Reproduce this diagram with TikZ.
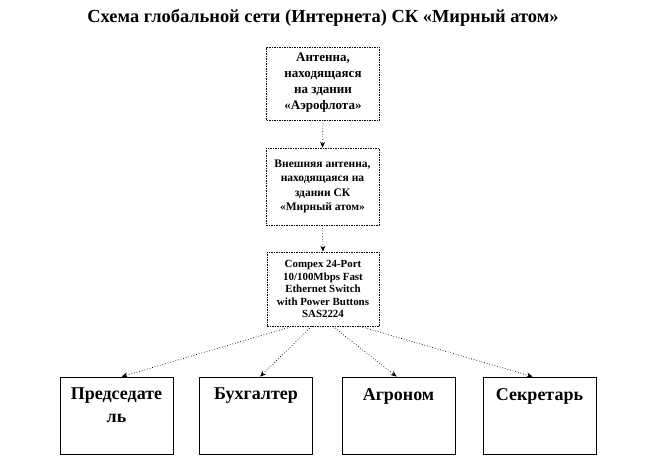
\documentclass[tikz,border=0pt]{standalone}
\usepackage{fontspec}
\setmainfont{Liberation Serif}
\usetikzlibrary{arrows.meta,calc}
\tikzset{
  topbox/.style={draw, dash pattern=on 1.5pt off 1pt, line width=0.6pt, align=center, inner sep=1pt},
  staffbox/.style={draw, line width=0.8pt, minimum width=113pt, minimum height=77pt},
  stafftext/.style={text width=113pt, align=center, anchor=north, font=\bfseries\fontsize{18}{23}\selectfont},
  link/.style={dotted, line width=0.7pt, -{Stealth[length=6pt,width=5pt]}}
}
\begin{document}
\begin{tikzpicture}[x=1pt,y=-1pt]
\useasboundingbox (0,0) rectangle (647,456);
\node (title) at (323,18) {\bfseries\fontsize{18.4}{20}\selectfont Схема глобальной сети (Интернета) СК «Мирный атом»};

\node[topbox, minimum width=113pt, minimum height=73pt, text depth=4pt, font=\bfseries\fontsize{13}{16}\selectfont] (n1) at (323,83.5) {Антенна,\\ находящаяся\\ на здании\\ «Аэрофлота»};
\node[topbox, minimum width=113pt, minimum height=77pt, font=\bfseries\fontsize{11.5}{14.5}\selectfont] (n2) at (322.5,186.5) {Внешняя антенна,\\ находящаяся на\\ здании СК\\ «Мирный атом»};
\node[topbox, minimum width=112pt, minimum height=74pt, font=\bfseries\fontsize{10.9}{12.5}\selectfont] (n3) at (323,289) {Compex 24-Port\\ 10/100Mbps Fast\\ Ethernet Switch\\ with Power Buttons\\ SAS2224};

\node[staffbox] (a) at (116.5,415.5) {};
\node[staffbox] (b) at (256,415.5) {};
\node[staffbox] (c) at (398.5,415.5) {};
\node[staffbox] (d) at (539.5,415.5) {};
\node[stafftext] (ta) at ($(a.north)+(0,8)$) {Председате\\ ль};
\node[stafftext] (tb) at ($(b.north)+(0,8)$) {Бухгалтер};
\node[stafftext] (tc) at ($(c.north)+(0,8)$) {Агроном};
\node[stafftext] (td) at ($(d.north)+(0,8)$) {Секретарь};

\draw[link] (n1.south) -- (n2.north);
\draw[link] (n2.south) -- (n3.north);
\draw[link] ($(n3.south west)+(26,0)$) -- ($(a.north west)+(62,0)$);
\draw[link] ($(n3.south west)+(45,0)$) -- ($(b.north west)+(61,0)$);
\draw[link] ($(n3.south west)+(66,0)$) -- ($(c.north west)+(55,0)$);
\draw[link] ($(n3.south west)+(93,0)$) -- ($(d.north west)+(50,0)$);
\end{tikzpicture}
\end{document}
